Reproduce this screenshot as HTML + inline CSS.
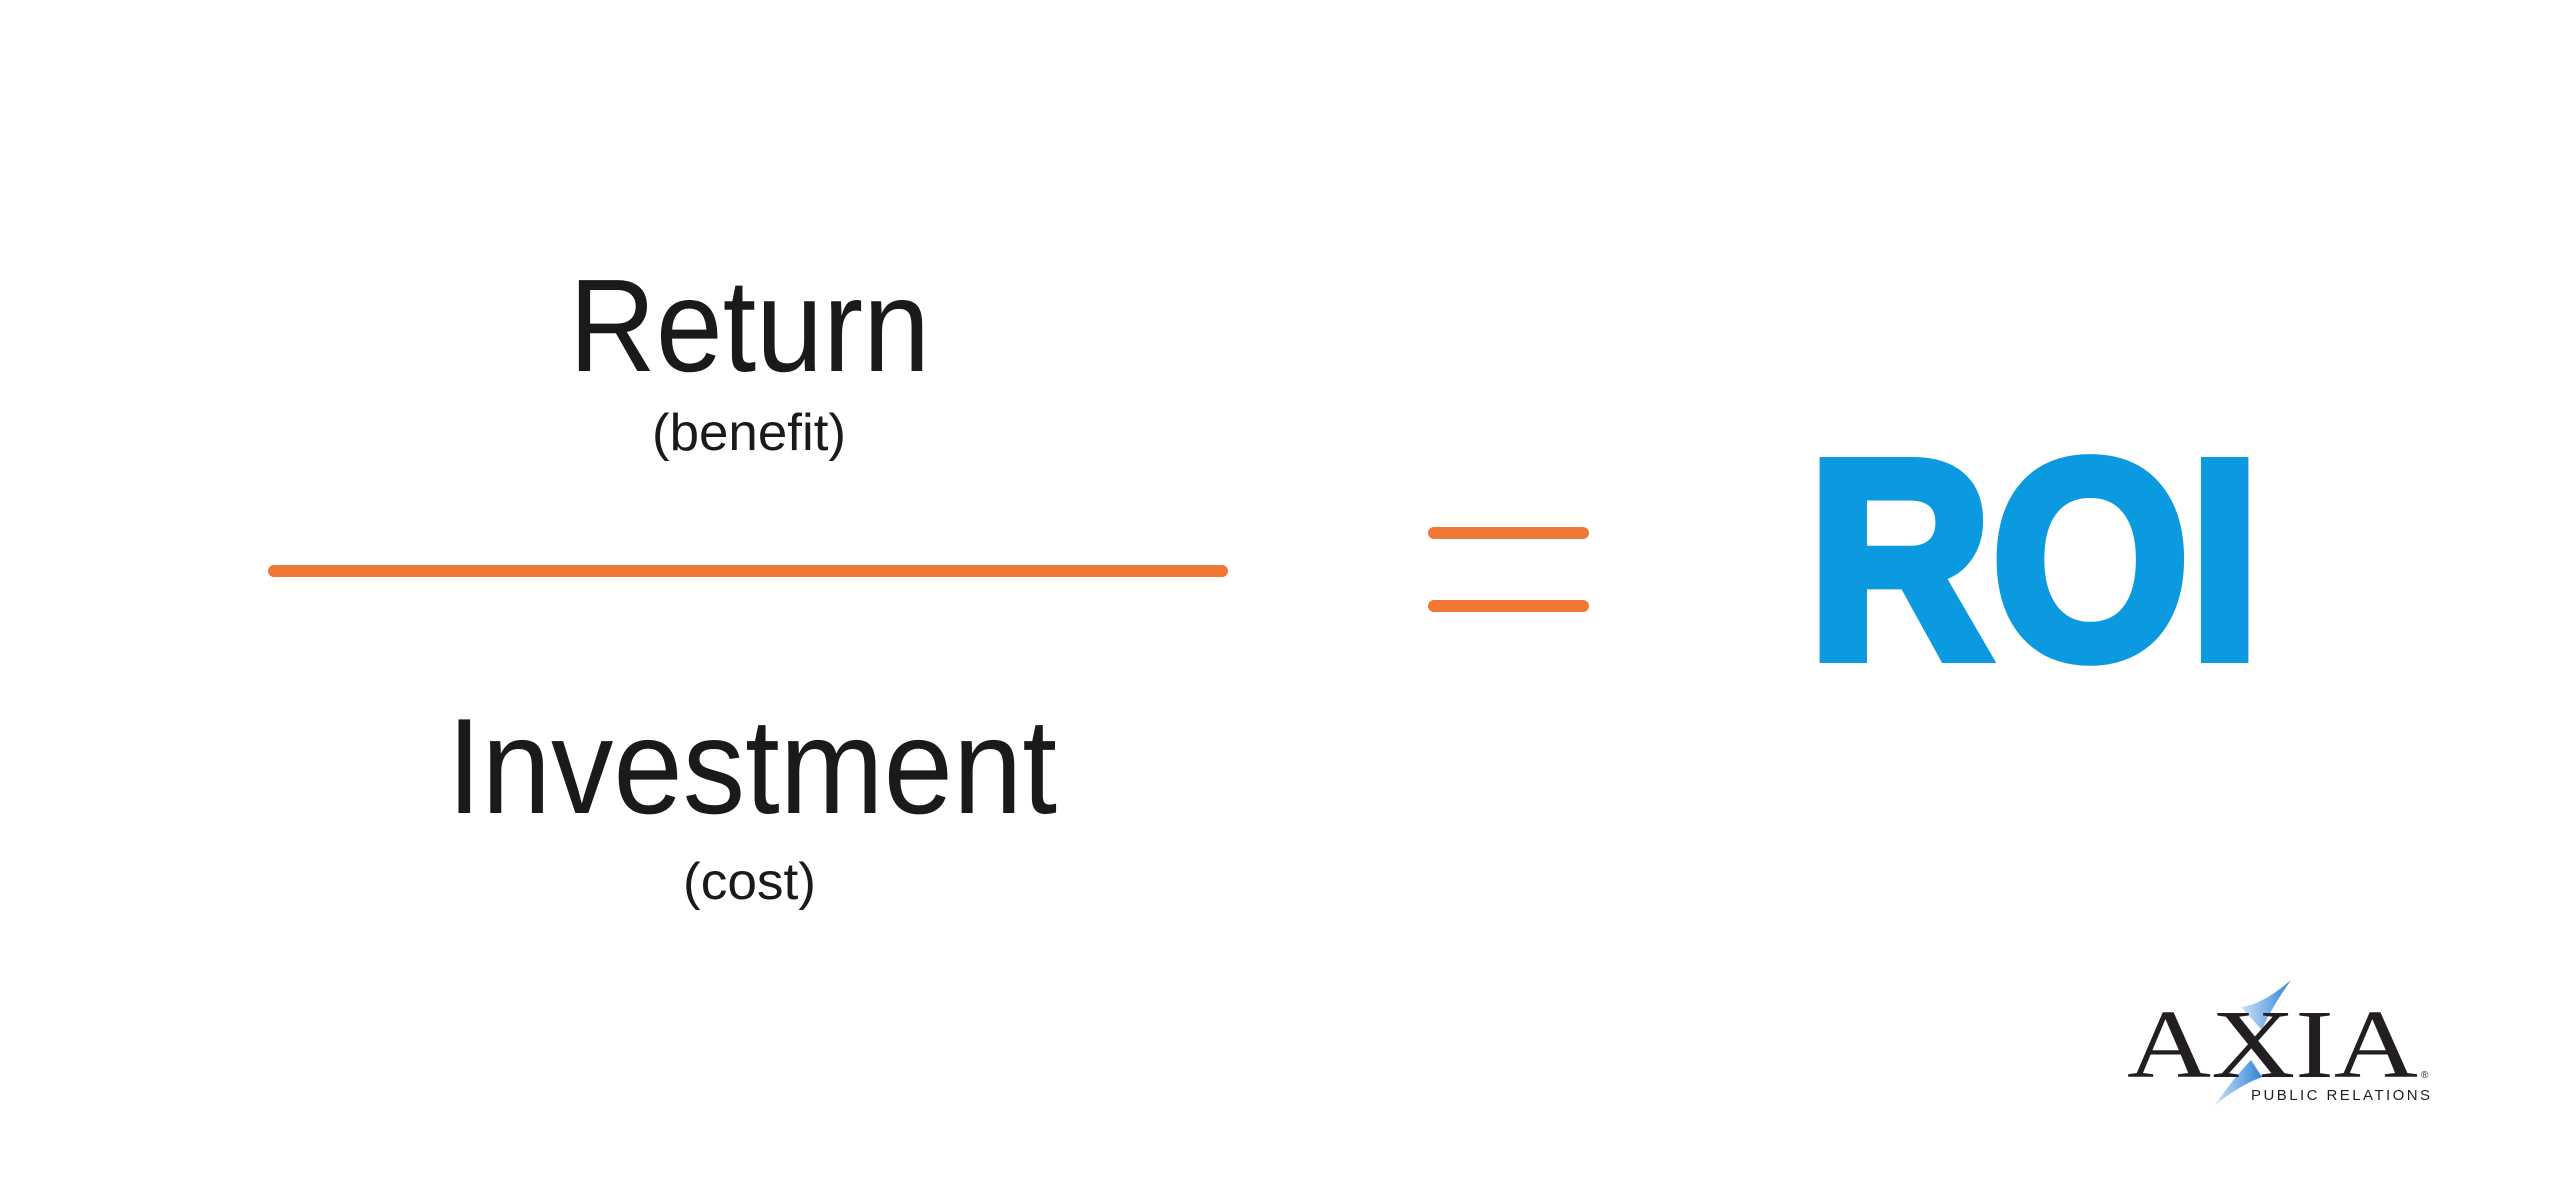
<!DOCTYPE html>
<html><head><meta charset="utf-8"><style>html,body{margin:0;padding:0;background:#fff}svg{display:block}</style></head>
<body>
<svg width="2550" height="1188" viewBox="0 0 2550 1188" xmlns="http://www.w3.org/2000/svg">
<rect width="2550" height="1188" fill="#fff"/>
<g font-family="Liberation Sans, sans-serif" fill="#1a1a1a">
<text x="569" y="371" font-size="132" textLength="361" lengthAdjust="spacingAndGlyphs">Return</text>
<text x="652" y="450" font-size="52" textLength="194" lengthAdjust="spacingAndGlyphs">(benefit)</text>
<text x="447" y="813" font-size="136" textLength="610" lengthAdjust="spacingAndGlyphs">Investment</text>
<text x="683" y="899" font-size="52" textLength="133" lengthAdjust="spacingAndGlyphs">(cost)</text>
</g>
<line x1="274" y1="571" x2="1222" y2="571" stroke="#f07834" stroke-width="12" stroke-linecap="round"/>
<line x1="1434" y1="533" x2="1583" y2="533" stroke="#f07834" stroke-width="12" stroke-linecap="round"/>
<line x1="1434" y1="606" x2="1583" y2="606" stroke="#f07834" stroke-width="12" stroke-linecap="round"/>
<text x="1808" y="657" font-family="Liberation Sans, sans-serif" font-weight="bold" font-size="282" fill="#0b9ae0" stroke="#0b9ae0" stroke-width="12" stroke-linejoin="miter" textLength="452" lengthAdjust="spacingAndGlyphs">ROI</text>
<defs><linearGradient id="g" x1="0" y1="0" x2="1" y2="0"><stop offset="0" stop-color="#cfe0f5"/><stop offset="1" stop-color="#2f86d8"/></linearGradient></defs>
<path d="M2241 1007 Q2262 1005 2291 980 Q2270 1010 2262 1030 Z" fill="url(#g)"/>
<path d="M2251 1060 Q2232 1080 2215 1105 Q2240 1085 2262 1077 Z" fill="url(#g)"/>
<text x="2127" y="1077" font-family="Liberation Serif, serif" font-size="98" fill="#231f20" textLength="291" lengthAdjust="spacingAndGlyphs">AXIA</text>
<text x="2421" y="1078" font-family="Liberation Sans, sans-serif" font-size="10" fill="#231f20">®</text>
<text x="2251" y="1100" font-family="Liberation Sans, sans-serif" font-size="15" fill="#231f20" textLength="179" lengthAdjust="spacing">PUBLIC RELATIONS</text>
</svg>
</body></html>
